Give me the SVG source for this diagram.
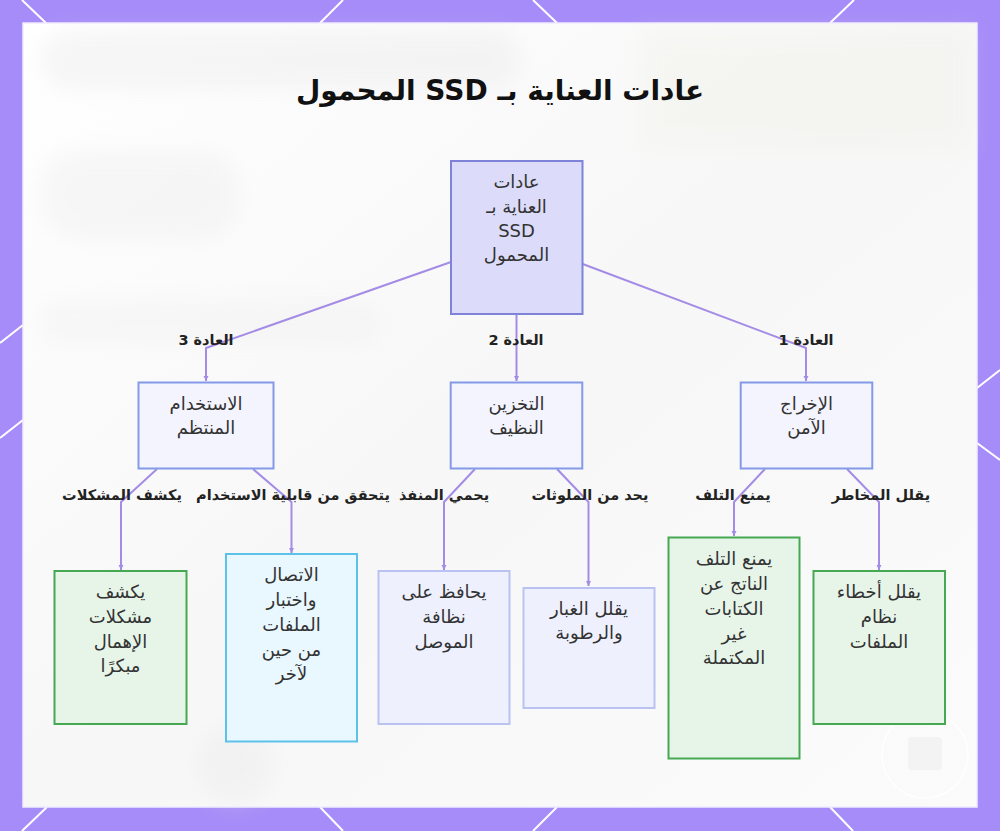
<svg xmlns="http://www.w3.org/2000/svg" width="1000" height="831" viewBox="0 0 1000 831">
<defs>
<style>
text{font-family:'DejaVu Sans',sans-serif;direction:rtl;text-anchor:middle;fill:#222;}
.title{font-size:28px;font-weight:bold;fill:#111;}
.nt{font-size:18px;fill:#333;}
.el{font-size:14.5px;font-weight:bold;fill:#222;}
.conn{fill:none;stroke:#a48ce6;stroke-width:2;stroke-linejoin:round;}
.root{fill:#dcdcfa;stroke:#7f82d9;stroke-width:2;}
.mid{fill:#f3f4fe;stroke:#8499e8;stroke-width:2;}
.green{fill:#e7f5e9;stroke:#46a852;stroke-width:2;}
.blue{fill:#e9f7fe;stroke:#5cc2e9;stroke-width:2;}
.lav{fill:#eef0fd;stroke:#bac2f1;stroke-width:2;}
.fl{stroke:#ffffff;stroke-width:2;fill:none;}
</style>
<marker id="ah" markerWidth="6" markerHeight="6" refX="5" refY="3" orient="auto" markerUnits="userSpaceOnUse">
<path d="M0,0.5 L5,3 L0,5.5 z" fill="#a48ce6"/>
</marker>
<filter id="blur" x="-20%" y="-20%" width="140%" height="140%"><feGaussianBlur stdDeviation="10"/></filter>
<linearGradient id="bg" x1="0" y1="0" x2="1" y2="1">
<stop offset="0" stop-color="#ffffff"/>
<stop offset="0.5" stop-color="#f7f7f7"/>
<stop offset="1" stop-color="#fbfbfb"/>
</linearGradient>
</defs>
<rect x="0" y="0" width="1000" height="831" fill="#a68cf8"/>
<g class="fl">
<line x1="22" y1="0" x2="46" y2="23"/>
<line x1="343" y1="0" x2="320" y2="23"/>
<line x1="533" y1="0" x2="557" y2="23"/>
<line x1="854" y1="0" x2="830" y2="23"/>
<line x1="22" y1="831" x2="47" y2="807"/>
<line x1="320" y1="807" x2="343" y2="831"/>
<line x1="557" y1="807" x2="533" y2="831"/>
<line x1="830" y1="807" x2="853" y2="831"/>
<line x1="977" y1="388" x2="1000" y2="370"/>
<line x1="977" y1="443" x2="1000" y2="460"/>
<line x1="23" y1="325" x2="0" y2="343"/>
<line x1="23" y1="420" x2="0" y2="438"/>
</g>
<rect x="23" y="23" width="954" height="784" fill="url(#bg)" stroke="#f1ecff" stroke-width="1.5"/>
<g filter="url(#blur)" opacity="0.3">
<rect x="40" y="30" width="480" height="60" rx="30" fill="#e4e4e4"/>
<rect x="40" y="150" width="200" height="90" rx="40" fill="#e8e8e8"/>
<rect x="40" y="300" width="340" height="45" rx="20" fill="#ececec"/>
<rect x="640" y="30" width="330" height="120" fill="#eef1e4"/>
<circle cx="235" cy="765" r="40" fill="#e6e6e6"/>
</g>
<circle cx="925" cy="755" r="43" fill="none" stroke="#ffffff" stroke-width="1.5" opacity="0.9"/>
<rect x="908" y="737" width="34" height="33" rx="4" fill="#ececec" opacity="0.5"/>
<text class="title" x="500" y="100">عادات العناية بـ SSD المحمول</text>
<g id="connectors">
<path class="conn" d="M451,262 L206,348 L206,381" marker-end="url(#ah)"/>
<path class="conn" d="M516.5,314 L516.5,381" marker-end="url(#ah)"/>
<path class="conn" d="M582.7,264 L806,348 L806,381" marker-end="url(#ah)"/>
<path class="conn" d="M157,469 L121,502 L121,570" marker-end="url(#ah)"/>
<path class="conn" d="M253,469 L291.5,502 L291.5,553" marker-end="url(#ah)"/>
<path class="conn" d="M475,469 L444,502 L444,570" marker-end="url(#ah)"/>
<path class="conn" d="M557,469 L588.5,502 L588.5,586" marker-end="url(#ah)"/>
<path class="conn" d="M765,469 L734,502 L734,536" marker-end="url(#ah)"/>
<path class="conn" d="M847,469 L879,502 L879,570" marker-end="url(#ah)"/>
<text class="el" x="206" y="345">العادة 3</text>
<text class="el" x="516" y="345">العادة 2</text>
<text class="el" x="806" y="345">العادة 1</text>
<text class="el" x="122" y="500">يكشف المشكلات</text>
<text class="el" x="293" y="500">يتحقق من قابلية الاستخدام</text>
<text class="el" x="444" y="500">يحمي المنفذ</text>
<text class="el" x="590" y="500">يحد من الملوثات</text>
<text class="el" x="733" y="500">يمنع التلف</text>
<text class="el" x="881" y="500">يقلل المخاطر</text>
</g>
<g id="root">
<rect class="root" x="451" y="161" width="131.5" height="153"/>
<text class="nt" x="516.5" y="188">عادات</text>
<text class="nt" x="516.5" y="213">العناية بـ</text>
<text class="nt" x="516.5" y="237">SSD</text>
<text class="nt" x="516.5" y="261">المحمول</text>
</g>
<g id="habit3">
<rect class="mid" x="138.5" y="382.5" width="135" height="86"/>
<text class="nt" x="206" y="410">الاستخدام</text>
<text class="nt" x="206" y="434">المنتظم</text>
</g>
<g id="habit2">
<rect class="mid" x="450.7" y="382.5" width="131.6" height="86"/>
<text class="nt" x="516.5" y="410">التخزين</text>
<text class="nt" x="516.5" y="434">النظيف</text>
</g>
<g id="habit1">
<rect class="mid" x="740.7" y="382.5" width="131.6" height="86"/>
<text class="nt" x="806.5" y="410">الإخراج</text>
<text class="nt" x="806.5" y="434">الآمن</text>
</g>
<g id="leaf-detect">
<rect class="green" x="54.5" y="571" width="132" height="153"/>
<text class="nt" x="120.5" y="598">يكشف</text>
<text class="nt" x="120.5" y="623">مشكلات</text>
<text class="nt" x="120.5" y="648">الإهمال</text>
<text class="nt" x="120.5" y="672">مبكرًا</text>
</g>
<g id="leaf-test">
<rect class="blue" x="226" y="554" width="131" height="187.5"/>
<text class="nt" x="291.5" y="581">الاتصال</text>
<text class="nt" x="291.5" y="606">واختبار</text>
<text class="nt" x="291.5" y="631">الملفات</text>
<text class="nt" x="291.5" y="656">من حين</text>
<text class="nt" x="291.5" y="680">لآخر</text>
</g>
<g id="leaf-connector">
<rect class="lav" x="378.5" y="571" width="131" height="153"/>
<text class="nt" x="444" y="598">يحافظ على</text>
<text class="nt" x="444" y="623">نظافة</text>
<text class="nt" x="444" y="648">الموصل</text>
</g>
<g id="leaf-dust">
<rect class="lav" x="523.5" y="588" width="131" height="120"/>
<text class="nt" x="589" y="615">يقلل الغبار</text>
<text class="nt" x="589" y="639">والرطوبة</text>
</g>
<g id="leaf-damage">
<rect class="green" x="668.5" y="537.5" width="131" height="221"/>
<text class="nt" x="734" y="565">يمنع التلف</text>
<text class="nt" x="734" y="590">الناتج عن</text>
<text class="nt" x="734" y="615">الكتابات</text>
<text class="nt" x="734" y="640">غير</text>
<text class="nt" x="734" y="664">المكتملة</text>
</g>
<g id="leaf-errors">
<rect class="green" x="813.5" y="571" width="131.5" height="153"/>
<text class="nt" x="879" y="598">يقلل أخطاء</text>
<text class="nt" x="879" y="623">نظام</text>
<text class="nt" x="879" y="648">الملفات</text>
</g>
</svg>
